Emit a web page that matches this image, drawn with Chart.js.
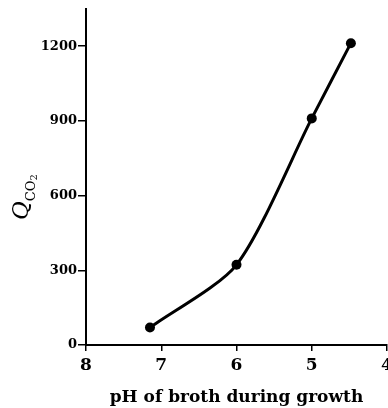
<!DOCTYPE html>
<html>
<head>
<meta charset="utf-8">
<script src="https://cdn.jsdelivr.net/npm/chart.js@4"></script>
<style>
html,body{margin:0;padding:0;background:#fff;overflow:hidden;}
#wrap{width:400px;height:408px;position:relative;}
</style>
</head>
<body>
<div id="wrap"><canvas id="c" width="400" height="408"></canvas></div>
<script>
const phValues = [7.15, 6.0, 5.0, 4.48];
const qco2Values = [70, 322, 910, 1212];
const xTicks = [8, 7, 6, 5, 4];
const yTicks = [0, 300, 600, 900, 1200];
const xTitle = 'pH of broth during growth';

const points = phValues.map((x, i) => ({x: x, y: qco2Values[i]}));

const serif = '"DejaVu Serif", "Liberation Serif", serif';

const yTitlePlugin = {
  id: 'yTitle',
  afterDraw(chart) {
    const ctx = chart.ctx;
    ctx.save();
    ctx.translate(28, 195);
    ctx.rotate(-Math.PI / 2);
    ctx.fillStyle = '#000';
    ctx.textBaseline = 'alphabetic';
    ctx.textAlign = 'left';
    ctx.font = 'italic 23px ' + serif;
    const q = 'Q';
    const qw = ctx.measureText(q).width;
    const startX = -25;
    ctx.fillText(q, startX, 0);
    ctx.font = '13px ' + serif;
    const co = 'CO';
    ctx.fillText(co, startX + qw, 7);
    const cow = ctx.measureText(co).width;
    ctx.font = '10px ' + serif;
    ctx.fillText('2', startX + qw + cow, 9);
    ctx.restore();
  }
};

new Chart(document.getElementById('c'), {
  type: 'line',
  data: {
    datasets: [{
      data: points,
      borderColor: '#000',
      backgroundColor: '#000',
      borderWidth: 3,
      pointRadius: 5,
      pointBackgroundColor: '#000',
      pointBorderWidth: 0,
      tension: 0.25,
      fill: false
    }]
  },
  options: {
    responsive: false,
    animation: false,
    layout: {padding: {top: 8, right: 13, left: 0, bottom: 0}},
    plugins: {legend: {display: false}, tooltip: {enabled: false}},
    scales: {
      x: {
        type: 'linear',
        reverse: true,
        min: 4, max: 8,
        afterBuildTicks(scale) { scale.ticks = xTicks.map(v => ({value: v})); },
        afterFit(scale) { scale.height = 63; },
        grid: {display: true, drawOnChartArea: false, drawTicks: true, tickLength: 6, color: '#000', lineWidth: 1.5},
        border: {display: true, color: '#000', width: 2},
        ticks: {color: '#000', padding: 4, font: {family: serif, size: 17, weight: 'bold'}, maxRotation: 0,
                callback: v => String(v)},
        title: {display: true, text: xTitle, color: '#000', padding: {top: 2, bottom: 0}, font: {family: serif, size: 17, weight: 'bold'}}
      },
      y: {
        type: 'linear',
        min: 0, max: 1350,
        afterBuildTicks(scale) { scale.ticks = yTicks.map(v => ({value: v})); },
        afterFit(scale) { scale.width = 86; },
        grid: {display: true, drawOnChartArea: false, drawTicks: true, tickLength: 8, color: '#000', lineWidth: 1.5},
        border: {display: true, color: '#000', width: 2},
        ticks: {color: '#000', padding: 1, font: {family: serif, size: 13, weight: 'bold'}, callback: v => String(v)}
      }
    }
  },
  plugins: [yTitlePlugin]
});
</script>
</body>
</html>
